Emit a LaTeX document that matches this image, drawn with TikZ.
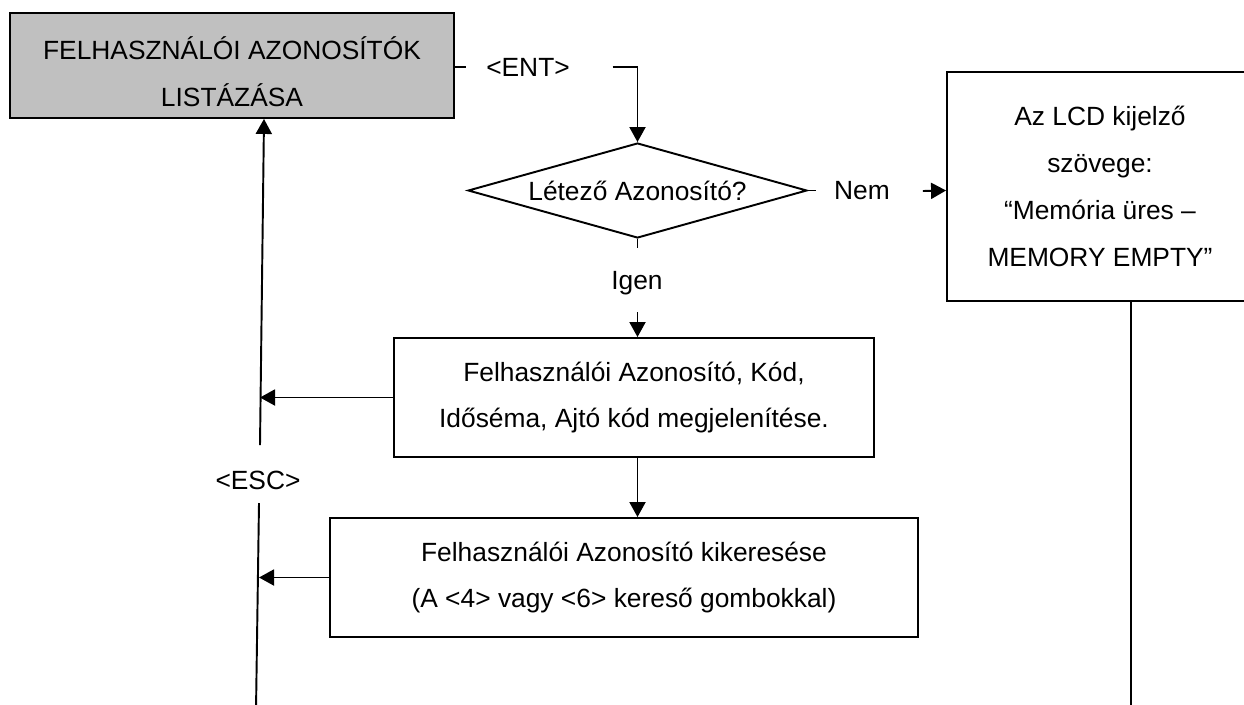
\documentclass[tikz,border=0pt]{standalone}
\usepackage{fontspec}
\setmainfont{Liberation Sans}
\usetikzlibrary{arrows.meta,positioning,shapes.geometric,calc}
\definecolor{boxgray}{HTML}{C0C0C0}

\begin{document}
\begin{tikzpicture}[x=0.02cm,y=-0.02cm,line width=1.1pt,
  every node/.style={font=\fontsize{15}{26.7}\selectfont},
  box/.style={draw,rectangle,align=center,inner sep=0pt},
  lbl/.style={inner sep=0pt},
  arr/.style={-{Triangle[length=0.3cm,width=0.32cm]}}]
\clip (0,0) rectangle (1244,704);
\useasboundingbox (0,0) rectangle (1244,704);

\node[box,fill=boxgray,minimum width=8.88cm,minimum height=2.1cm] (start) at (232,65.5) {};
\node[align=center,inner sep=0pt] (starttxt) at (232,72) {FELHASZNÁLÓI AZONOSÍTÓK\\LISTÁZÁSA};
\node[diamond,draw,aspect=3.57,inner sep=0pt,minimum width=6.78cm,minimum height=1.9cm] (q) at (637.5,190.5)
  {Létező Azonosító?};
\node[box,minimum width=6.12cm,minimum height=4.58cm] (lcd) at (1100,186.5)
  {Az LCD kijelző\\szövege:\\“Memória üres –\\MEMORY EMPTY”};
\node[box,minimum width=9.6cm,minimum height=2.38cm] (b1) at (634,397.5)
  {Felhasználói Azonosító, Kód,\\Időséma, Ajtó kód megjelenítése.};
\node[box,minimum width=11.76cm,minimum height=2.38cm] (b2) at (624,577.5)
  {Felhasználói Azonosító kikeresése\\(A <4> vagy <6> kereső gombokkal)};

\node[lbl] (ent) at (528,67) {<ENT>};
\node[lbl] (nem) at (862,191) {Nem};
\node[lbl] (igen) at (637,283) {Igen};
\node[lbl] (esc) at (258,480) {<ESC>};

\coordinate (esctop) at (260,445);
\coordinate (escbot) at (259,503);
\coordinate (escup) at (264,0);
\coordinate (leftend) at (256,710);
\coordinate (lcdline) at (1131,710);

\draw (start.east |- ent) -- ($(ent.west)+(-19,0)$);
\draw[arr] ($(ent.east)+(42,0)$) -| (q.north);
\draw (q.east) -- ++(8,0);
\draw[arr] ($(nem.east)+(32,0)$) -- (q.east -| lcd.west);
\draw (q.south) -- ++(0,9);
\draw[arr] ($(q.south |- b1.north)+(0,-25)$) -- (q.south |- b1.north);
\draw[arr] (q.south |- b1.south) -- (q.south |- b2.north);
\draw[arr] (b1.west) -- (b1.west -| esctop);
\draw[arr] (b2.west) -- (b2.west -| escbot);
\draw[arr] (esctop) -- (start.south -| escup);
\draw (escbot) -- (leftend);
\draw (lcd.south -| lcdline) -- (lcdline);
\end{tikzpicture}
\end{document}
